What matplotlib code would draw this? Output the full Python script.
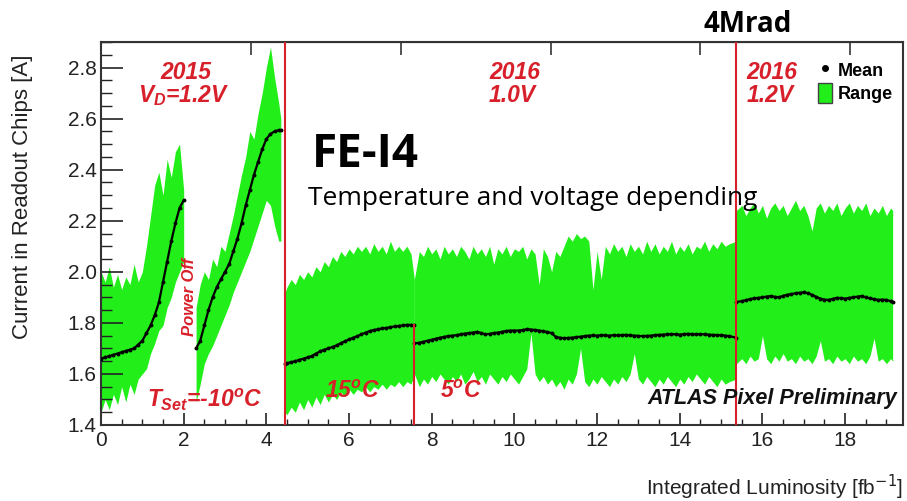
import matplotlib
matplotlib.use("Agg")
import matplotlib.pyplot as plt
from matplotlib.lines import Line2D
from matplotlib.patches import Patch
from matplotlib.ticker import MultipleLocator

plt.rcParams['font.family'] = ['Liberation Sans', 'DejaVu Sans']
plt.rcParams['mathtext.fontset'] = 'custom'
plt.rcParams['mathtext.it'] = 'Liberation Sans:italic:bold'
plt.rcParams['mathtext.rm'] = 'Liberation Sans:italic:bold'
plt.rcParams['mathtext.bf'] = 'Liberation Sans:italic:bold'
plt.rcParams['mathtext.default'] = 'it'

# ---------------- data ----------------
# 2015, first fill period
xa = [0.0, 0.1, 0.2, 0.3, 0.4, 0.5, 0.6, 0.7, 0.8, 0.9, 1.0, 1.1, 1.2, 1.3, 1.4, 1.5, 1.6, 1.7, 1.8, 1.9, 2.0]
up_a = [2.00, 1.96, 2.02, 1.94, 1.99, 1.93, 1.98, 1.95, 2.03, 1.96, 2.00, 2.10, 2.22, 2.34, 2.39, 2.30, 2.44, 2.37, 2.47, 2.50, 2.32]
lo_a = [1.45, 1.50, 1.46, 1.52, 1.48, 1.55, 1.49, 1.56, 1.52, 1.58, 1.60, 1.62, 1.68, 1.72, 1.77, 1.79, 1.86, 1.90, 1.96, 2.00, 2.04]
mean_a = [1.660, 1.665, 1.670, 1.675, 1.680, 1.685, 1.690, 1.695, 1.700, 1.715, 1.730, 1.760, 1.790, 1.830, 1.880, 1.960, 2.040, 2.120, 2.190, 2.250, 2.280]

# 2015, after power off
xb = [2.3, 2.4, 2.5, 2.6, 2.7, 2.8, 2.9, 3.0, 3.1, 3.2, 3.3, 3.4, 3.5, 3.6, 3.7, 3.8, 3.9, 4.0, 4.1, 4.2, 4.3, 4.35]
up_b = [1.86, 1.95, 2.00, 1.97, 2.05, 2.02, 2.10, 2.08, 2.15, 2.22, 2.30, 2.38, 2.45, 2.55, 2.52, 2.62, 2.70, 2.80, 2.88, 2.76, 2.66, 2.60]
lo_b = [1.49, 1.56, 1.64, 1.68, 1.71, 1.75, 1.79, 1.83, 1.87, 1.92, 1.96, 2.00, 2.04, 2.08, 2.13, 2.18, 2.23, 2.28, 2.26, 2.18, 2.12, 2.12]
mean_b = [1.700, 1.730, 1.790, 1.850, 1.900, 1.940, 1.970, 2.000, 2.030, 2.080, 2.130, 2.190, 2.260, 2.320, 2.380, 2.430, 2.480, 2.520, 2.540, 2.550, 2.555, 2.555]

# 2016, 1.0V, 15 C
xc = [4.45, 4.5, 4.6, 4.7, 4.8, 4.9, 5.0, 5.1, 5.2, 5.3, 5.4, 5.5, 5.6, 5.7, 5.8, 5.9, 6.0, 6.1, 6.2, 6.3,
      6.4, 6.5, 6.6, 6.7, 6.8, 6.9, 7.0, 7.1, 7.2, 7.3, 7.4, 7.5, 7.58]
up_c = [1.92, 1.94, 1.97, 1.95, 1.99, 1.97, 2.00, 1.98, 2.02, 2.00, 2.04, 2.02, 2.06, 2.04, 2.08, 2.06, 2.09, 2.07, 2.10, 2.08,
        2.10, 2.07, 2.11, 2.08, 2.10, 2.07, 2.12, 2.08, 2.10, 2.08, 2.10, 2.07, 1.97]
lo_c = [1.45, 1.44, 1.47, 1.45, 1.49, 1.46, 1.50, 1.47, 1.51, 1.48, 1.52, 1.49, 1.52, 1.50, 1.53, 1.51, 1.54, 1.52, 1.54, 1.53,
        1.55, 1.53, 1.55, 1.54, 1.56, 1.54, 1.56, 1.55, 1.57, 1.55, 1.57, 1.56, 1.60]
mean_c = [1.640, 1.642, 1.646, 1.650, 1.655, 1.660, 1.665, 1.670, 1.680, 1.688, 1.695, 1.700, 1.706, 1.712, 1.720, 1.728, 1.735, 1.742, 1.748, 1.755,
          1.762, 1.768, 1.772, 1.775, 1.778, 1.780, 1.783, 1.786, 1.788, 1.790, 1.792, 1.792, 1.790]

# 2016, 1.0V, 5 C
xd = [7.58, 7.7, 7.8, 7.9, 8.0, 8.1, 8.2, 8.3, 8.4, 8.5, 8.6, 8.7, 8.8, 8.9, 9.0, 9.1, 9.2, 9.3, 9.4, 9.5,
      9.6, 9.7, 9.8, 9.9, 10.0, 10.1, 10.2, 10.3, 10.4, 10.5, 10.6, 10.7, 10.8, 10.9, 11.0, 11.1, 11.2, 11.3, 11.4, 11.5,
      11.6, 11.7, 11.8, 11.9, 12.0, 12.1, 12.2, 12.3, 12.4, 12.5, 12.6, 12.7, 12.8, 12.9, 13.0, 13.1, 13.2, 13.3, 13.4, 13.5,
      13.6, 13.7, 13.8, 13.9, 14.0, 14.1, 14.2, 14.3, 14.4, 14.5, 14.6, 14.7, 14.8, 14.9, 15.0, 15.1, 15.2, 15.37]
up_d = [1.97, 2.08, 2.06, 2.10, 2.07, 2.09, 2.05, 2.10, 2.07, 2.09, 2.06, 2.10, 2.08, 2.05, 2.10, 2.07, 2.09, 2.06, 2.10, 2.03,
        2.09, 2.07, 2.10, 2.06, 2.09, 2.08, 2.10, 2.05, 2.09, 2.07, 1.95, 2.09, 2.06, 2.00, 2.08, 2.06, 2.10, 2.14, 2.12, 2.15,
        2.13, 2.14, 2.12, 1.93, 2.08, 1.97, 2.10, 2.07, 2.11, 2.08, 2.10, 2.06, 2.11, 2.08, 2.10, 2.07, 2.12, 2.08, 2.11, 2.07,
        2.10, 2.08, 2.12, 2.07, 2.10, 2.08, 2.11, 2.07, 2.10, 2.09, 2.12, 2.08, 2.11, 2.09, 2.12, 2.10, 2.11, 2.12]
lo_d = [1.60, 1.55, 1.58, 1.56, 1.59, 1.57, 1.60, 1.58, 1.56, 1.59, 1.57, 1.60, 1.56, 1.58, 1.61, 1.57, 1.59, 1.56, 1.60, 1.58,
        1.56, 1.59, 1.57, 1.60, 1.58, 1.56, 1.59, 1.62, 1.76, 1.60, 1.57, 1.59, 1.56, 1.58, 1.55, 1.57, 1.54, 1.58, 1.56, 1.60,
        1.70, 1.57, 1.55, 1.58, 1.56, 1.59, 1.57, 1.55, 1.58, 1.56, 1.59, 1.57, 1.60, 1.68, 1.58, 1.56, 1.59, 1.57, 1.55, 1.58,
        1.56, 1.59, 1.57, 1.55, 1.58, 1.56, 1.59, 1.57, 1.60, 1.58, 1.56, 1.59, 1.57, 1.55, 1.58, 1.56, 1.57, 1.58]
mean_d = [1.720, 1.722, 1.726, 1.730, 1.734, 1.738, 1.742, 1.745, 1.748, 1.750, 1.752, 1.755, 1.758, 1.760, 1.762, 1.765, 1.760, 1.755, 1.757, 1.760,
          1.762, 1.765, 1.768, 1.770, 1.770, 1.770, 1.772, 1.775, 1.774, 1.772, 1.770, 1.767, 1.764, 1.760, 1.745, 1.742, 1.740, 1.741, 1.742, 1.744,
          1.746, 1.748, 1.750, 1.751, 1.750, 1.752, 1.751, 1.750, 1.752, 1.751, 1.752, 1.753, 1.751, 1.750, 1.749, 1.748, 1.749, 1.750, 1.752, 1.753,
          1.754, 1.755, 1.756, 1.755, 1.754, 1.756, 1.757, 1.756, 1.755, 1.756, 1.755, 1.754, 1.753, 1.752, 1.752, 1.750, 1.748, 1.742]

# 2016, 1.2V
xe = [15.37, 15.5, 15.6, 15.7, 15.8, 15.9, 16.0, 16.1, 16.2, 16.3, 16.4, 16.5, 16.6, 16.7, 16.8, 16.9, 17.0, 17.1, 17.2, 17.3,
      17.4, 17.5, 17.6, 17.7, 17.8, 17.9, 18.0, 18.1, 18.2, 18.3, 18.4, 18.5, 18.6, 18.7, 18.8, 18.9, 19.0, 19.1, 19.15]
up_e = [2.24, 2.26, 2.22, 2.25, 2.27, 2.23, 2.26, 2.21, 2.25, 2.27, 2.24, 2.26, 2.22, 2.25, 2.28, 2.24, 2.26, 2.22, 2.16, 2.25,
        2.27, 2.23, 2.26, 2.24, 2.27, 2.22, 2.25, 2.27, 2.23, 2.26, 2.24, 2.27, 2.22, 2.25, 2.23, 2.26, 2.22, 2.25, 2.24]
lo_e = [1.64, 1.66, 1.64, 1.67, 1.65, 1.66, 1.75, 1.66, 1.64, 1.67, 1.65, 1.68, 1.65, 1.66, 1.64, 1.67, 1.65, 1.66, 1.64, 1.67,
        1.73, 1.65, 1.66, 1.64, 1.67, 1.65, 1.66, 1.64, 1.67, 1.65, 1.66, 1.64, 1.67, 1.74, 1.65, 1.66, 1.64, 1.66, 1.65]
mean_e = [1.882, 1.885, 1.889, 1.893, 1.896, 1.898, 1.900, 1.903, 1.905, 1.902, 1.900, 1.906, 1.910, 1.913, 1.916, 1.918, 1.920, 1.916, 1.910, 1.902,
          1.895, 1.891, 1.890, 1.894, 1.898, 1.897, 1.895, 1.898, 1.900, 1.903, 1.905, 1.900, 1.896, 1.893, 1.890, 1.891, 1.890, 1.885, 1.880]

segments = [(xa, up_a, lo_a, mean_a), (xb, up_b, lo_b, mean_b), (xc, up_c, lo_c, mean_c),
            (xd, up_d, lo_d, mean_d), (xe, up_e, lo_e, mean_e)]

# vertical markers: (x, ymax) ; None -> full height
red_lines = [(4.45, None), (7.58, 1.792), (15.37, None)]
top_ticks = [3.63, 7.26, 10.88, 14.5, 18.12]

# ---------------- figure ----------------
W, H = 907, 501
fig = plt.figure(figsize=(W / 100, H / 100), dpi=100)
ax = fig.add_axes([101 / W, 1 - 425 / H, (903 - 101) / W, (425 - 42) / H])

green = '#22ee1a'
for xs, up, lo, mn in segments:
    ax.fill_between(xs, lo, up, color=green, lw=0, zorder=1)
for xs, up, lo, mn in segments:
    ax.plot(xs, mn, color='black', lw=1.6, marker='o', ms=1.8, zorder=3)

red = '#d8202a'
for xv, ym in red_lines:
    if ym is None:
        ax.axvline(xv, color=red, lw=1.5, zorder=4)
    else:
        ax.plot([xv, xv], [1.4, ym], color=red, lw=1.5, zorder=4)

ax.set_xlim(0, 19.4)
ax.set_ylim(1.4, 2.9)
ax.xaxis.set_major_locator(MultipleLocator(2))
ax.xaxis.set_minor_locator(MultipleLocator(0.5))
ax.yaxis.set_major_locator(MultipleLocator(0.2))
ax.yaxis.set_minor_locator(MultipleLocator(0.05))
ax.tick_params(axis='x', which='major', direction='in', length=9, width=1.2, labelsize=15, pad=4, colors='#222222')
ax.tick_params(axis='x', which='minor', direction='in', length=4.5, width=1.0, colors='#222222')
ax.tick_params(axis='y', which='major', direction='in', length=16, width=1.2, labelsize=15, pad=3, colors='#222222')
ax.tick_params(axis='y', which='minor', direction='in', length=8, width=1.0, colors='#222222')
ax.set_xticklabels([]) if False else None
for s in ax.spines.values():
    s.set_color('#333333')
    s.set_linewidth(1.5)

ax.xaxis.set_major_formatter(matplotlib.ticker.FuncFormatter(lambda v, p: f"{v:.0f}"))
ax.yaxis.set_major_formatter(matplotlib.ticker.FuncFormatter(lambda v, p: f"{v:.1f}"))

top = ax.secondary_xaxis('top')
top.set_xticks(top_ticks)
top.set_xticklabels([])
top.tick_params(direction='in', length=9, width=1.2, colors='#333333')

# labels
fig.text(23 / W, 1 - 197 / H, 'Current in Readout Chips [A]', rotation=90, ha='center', va='center',
         fontsize=16, color='#222222')
fig.text(903 / W, 1 - 487 / H, 'Integrated Luminosity [fb$^{\\mathrm{-1}}$]', ha='right', va='center',
         fontsize=15, color='#222222', math_fontfamily='dejavusans')

# red annotations
rkw = dict(color=red, fontweight='bold', fontstyle='italic', fontsize=16.5, zorder=5)
ax.text(2.05, 2.78, '2015', ha='center', va='center', **rkw)
ax.text(1.99, 2.69, '$V_{D}$=1.2V', ha='center', va='center', **rkw)
ax.text(10.02, 2.78, '2016', ha='center', va='center', **rkw)
ax.text(9.94, 2.69, '1.0V', ha='center', va='center', **rkw)
ax.text(15.62, 2.78, '2016', ha='left', va='center', **rkw)
ax.text(15.62, 2.69, '1.2V', ha='left', va='center', **rkw)
ax.text(2.52, 1.50, '$T_{Set}$=-10$^{o}$C', ha='center', va='center', **rkw)
ax.text(6.08, 1.53, '15$^{o}$C', ha='center', va='center', **rkw)
ax.text(8.71, 1.53, '5$^{o}$C', ha='center', va='center', **rkw)
ax.text(2.15, 1.90, 'Power Off', rotation=90, ha='center', va='center', color=red,
        fontweight='bold', fontstyle='italic', fontsize=12, zorder=5)

ax.text(19.25, 1.505, 'ATLAS Pixel Preliminary', ha='right', va='center', fontweight='bold',
        fontstyle='italic', fontsize=15.5, color='#111111', zorder=5)

# legend
handles = [Line2D([], [], color='black', marker='o', ls='none', ms=4),
           Patch(facecolor=green, edgecolor='#444444', lw=1)]
leg = ax.legend(handles, ['Mean', 'Range'], loc='upper left', bbox_to_anchor=(0.878, 0.985),
                frameon=False, handlelength=0.8, handleheight=1.3, handletextpad=0.3, labelspacing=0.15,
                borderpad=0.2, prop=dict(weight='bold', size=13))

# slide overlay texts
fig.text(312 / W, 1 - 167 / H, 'FE-I4', family='Open Sans', fontweight='bold', fontsize=33,
         ha='left', va='baseline', color='black')
fig.text(308 / W, 1 - 205 / H, 'Temperature and voltage depending', family='Open Sans', fontsize=19,
         ha='left', va='baseline', color='black')
fig.text(704 / W, 1 - 32 / H, '4Mrad', family='Open Sans', fontweight='bold', fontsize=20,
         ha='left', va='baseline', color='black')

fig.savefig('out.png', dpi=100)
